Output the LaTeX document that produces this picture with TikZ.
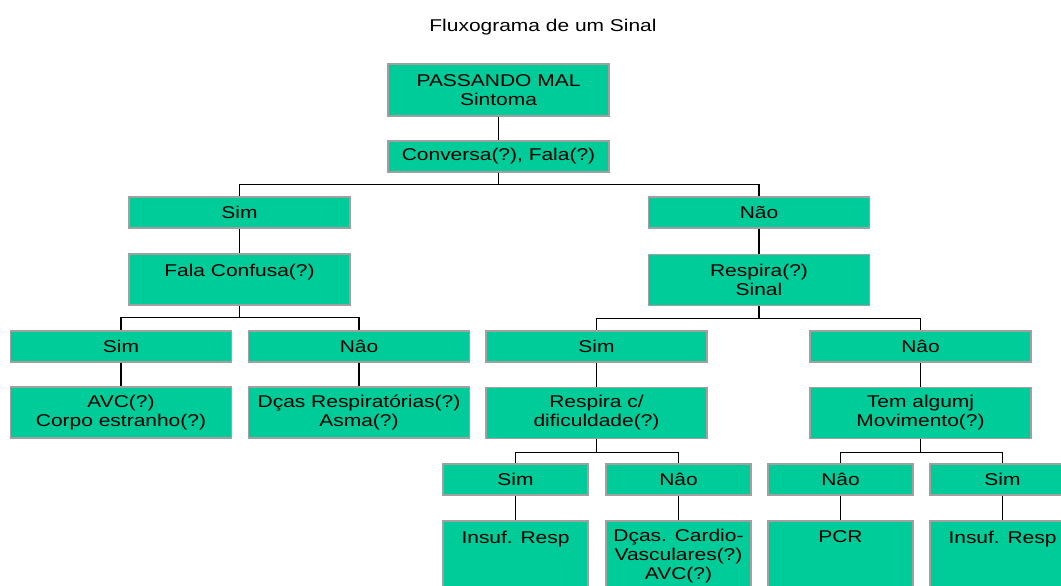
\documentclass[tikz,border=0pt]{standalone}
\usepackage{fontspec}
\setmainfont{Liberation Sans}[FakeStretch=1.23]
\definecolor{verde}{RGB}{0,204,153}
\definecolor{borda}{RGB}{160,160,160}
\tikzset{
  block/.style={
    draw=borda,
    line width=0.8pt,
    fill=verde,
    rectangle,
    inner sep=0pt,
    align=center,
    minimum width=4.42cm,
    minimum height=0.62cm
  },
  small/.style={block, minimum width=2.9cm},
  link/.style={black, line width=0.6pt}
}

\begin{document}
\begin{tikzpicture}[x=0.02cm, y=-0.02cm, font=\fontsize{9.7}{10.8}\selectfont]
      \useasboundingbox (0,0) rectangle (1061,585);
      \clip (0,0) rectangle (1061,585);
      \node[anchor=base] (titulo) at (543,31.7) {Fluxograma de um Sinal};

      \node[block, minimum height=1.04cm] (sint) at (498.5,90) {PASSANDO MAL\\Sintoma};
      \node[block] (conv) at (498.5,156.5) {Conversa(?), Fala(?)};

      \node[block] (sim) at (239.5,212.5) {Sim};
      \node[block] (nao) at (759,212.5) {Não};
      \node[block, minimum height=1.02cm] (fala) at (239.5,279.5) {Fala Confusa(?)\\~};
      \node[block, minimum height=1.02cm] (resp) at (759,280) {Respira(?)\\Sinal};

      \node[block] (falasim) at (121,346.5) {Sim};
      \node[block] (falanao) at (359,346.5) {Nâo};
      \node[block] (respsim) at (596.5,346.5) {Sim};
      \node[block] (respnao) at (920.5,346.5) {Nâo};

      \node[block, minimum height=1.02cm] (avc) at (121,412.5) {AVC(?)\\Corpo estranho(?)};
      \node[block, minimum height=1.02cm] (dcas) at (359,412.5) {Dças Respiratórias(?)\\Asma(?)};
      \node[block, minimum height=1.02cm] (dific) at (596.5,413) {Respira c/\\dificuldade(?)};
      \node[block, minimum height=1.02cm] (movim) at (920.5,413) {Tem algumj\\Movimento(?)};

      \node[small] (dificsim) at (515.5,479.5) {Sim};
      \node[small] (dificnao) at (678.5,479.5) {Nâo};
      \node[small] (movimnao) at (840.5,479.5) {Nâo};
      \node[small] (movimsim) at (1002.5,479.5) {Sim};

      \node[small, minimum height=1.4cm] (insuf1) at (515.5,556) {Insuf. Resp\\~\\~};
      \node[small, minimum height=1.4cm] (cardio) at (678.5,556) {Dças. Cardio-\\Vasculares(?)\\AVC(?)};
      \node[small, minimum height=1.4cm] (pcr) at (840.5,556) {PCR\\~\\~};
      \node[small, minimum height=1.4cm] (insuf2) at (1002.5,556) {Insuf. Resp\\~\\~};

      % Ligações
      \draw[link] (sint) -- (conv);
      \draw[link] (conv.south) -- ++(0,12) -| (sim.north);
      \draw[link] (conv.south) -- ++(0,12) -| (nao.north);
      \draw[link] (sim) -- (fala);
      \draw[link] (nao) -- (resp);

      \draw[link] (fala.south) -- ++(0,12) -| (falasim.north);
      \draw[link] (fala.south) -- ++(0,12) -| (falanao.north);
      \draw[link] (resp.south) -- ++(0,12) -| (respsim.north);
      \draw[link] (resp.south) -- ++(0,12) -| (respnao.north);
      \draw[link] (falasim) -- (avc);
      \draw[link] (falanao) -- (dcas);
      \draw[link] (respsim) -- (dific);
      \draw[link] (respnao) -- (movim);

      \draw[link] (dific.south) -- ++(0,13) -| (dificsim.north);
      \draw[link] (dific.south) -- ++(0,13) -| (dificnao.north);
      \draw[link] (movim.south) -- ++(0,13) -| (movimnao.north);
      \draw[link] (movim.south) -- ++(0,13) -| (movimsim.north);
      \draw[link] (dificsim) -- (insuf1);
      \draw[link] (dificnao) -- (cardio);
      \draw[link] (movimnao) -- (pcr);
      \draw[link] (movimsim) -- (insuf2);
\end{tikzpicture}
\end{document}
